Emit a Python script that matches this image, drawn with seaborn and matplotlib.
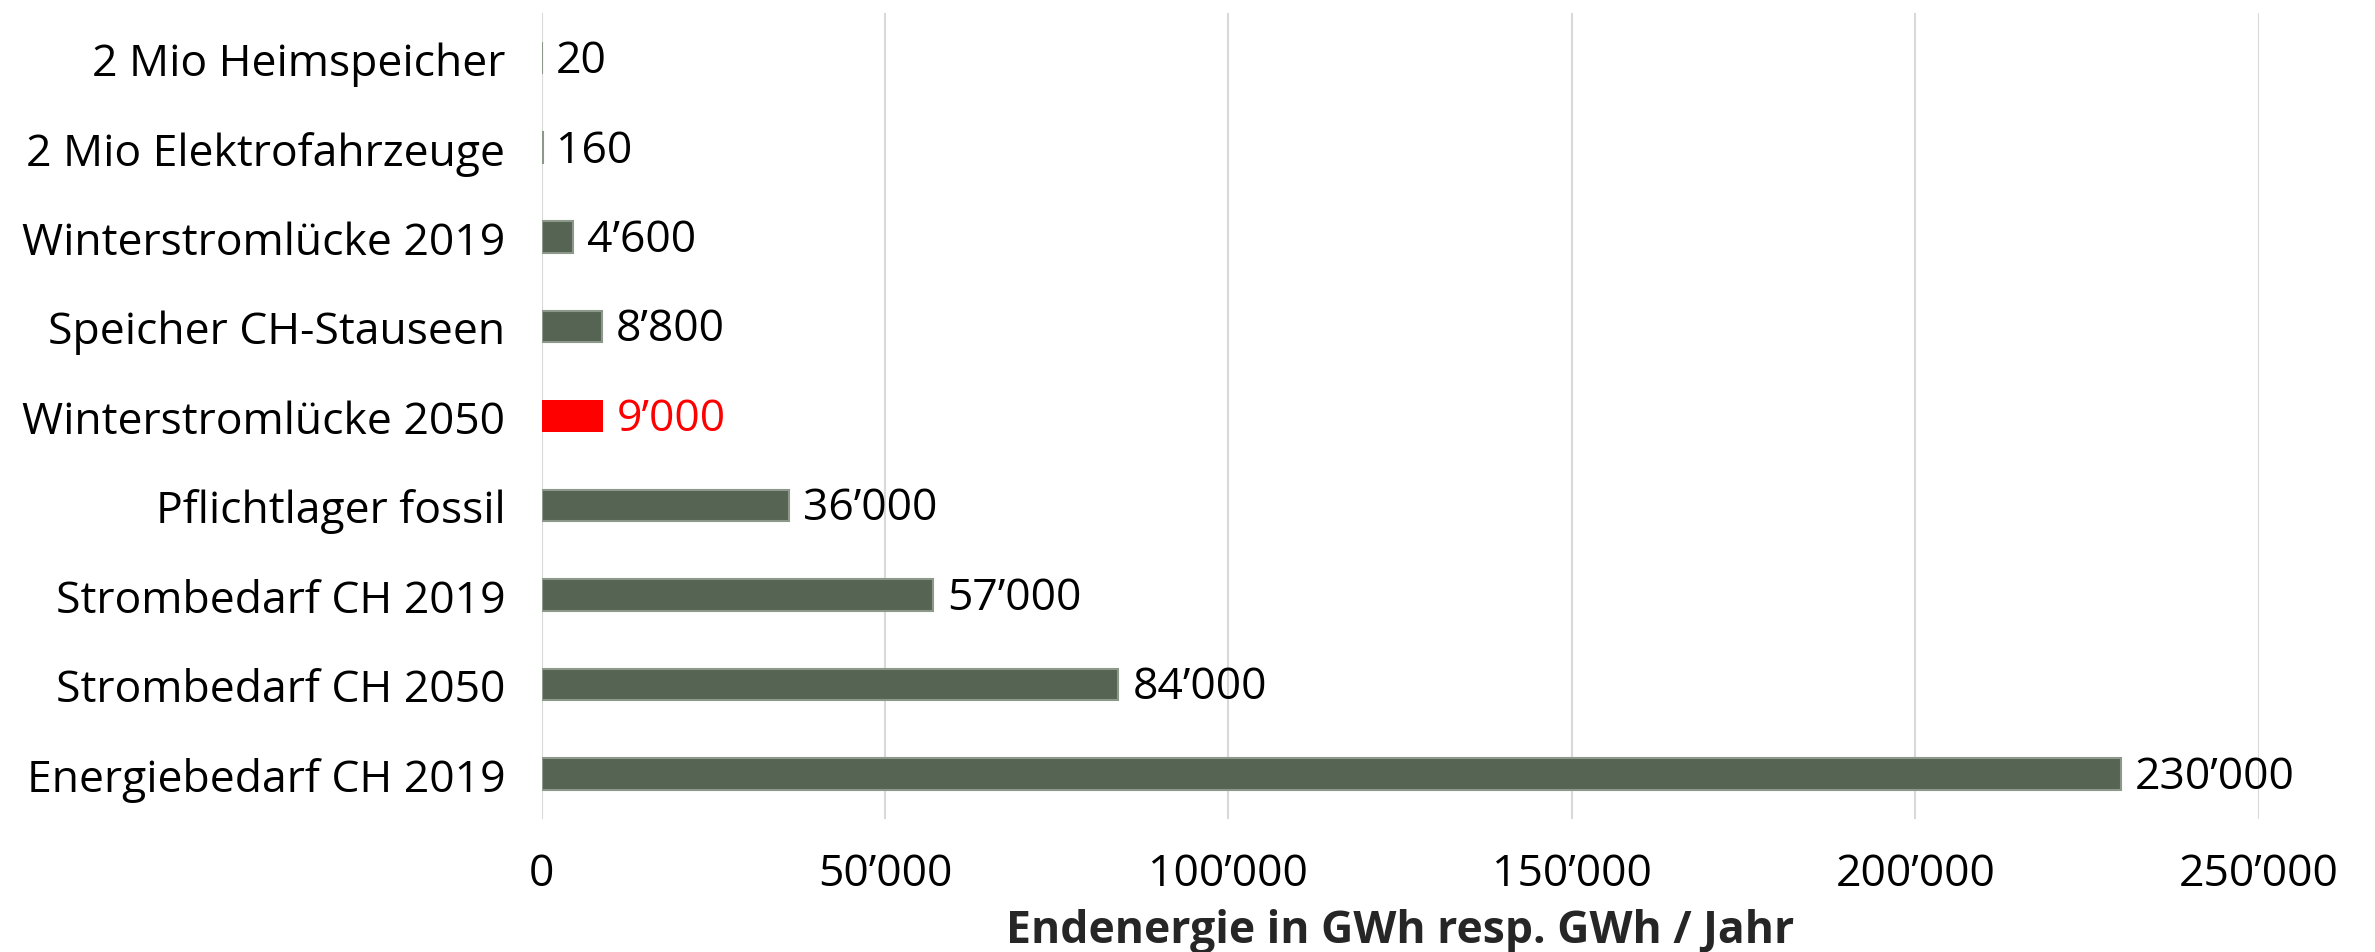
import matplotlib
matplotlib.use("Agg")
import matplotlib.pyplot as plt
import seaborn as sns
import pandas as pd
from matplotlib.ticker import FuncFormatter

categories = [
    "2 Mio Heimspeicher",
    "2 Mio Elektrofahrzeuge",
    "Winterstromlücke 2019",
    "Speicher CH-Stauseen",
    "Winterstromlücke 2050",
    "Pflichtlager fossil",
    "Strombedarf CH 2019",
    "Strombedarf CH 2050",
    "Energiebedarf CH 2019",
]
values = [20, 160, 4600, 8800, 9000, 36000, 57000, 84000, 230000]
highlight = "Winterstromlücke 2050"
x_ticks = [0, 50000, 100000, 150000, 200000, 250000]
x_label = "Endenergie in GWh resp. GWh / Jahr"

BAR = "#566453"
RED = "#ff0000"

sns.set_theme(style="white")
plt.rcParams["font.family"] = ["Open Sans", "DejaVu Sans"]

def swiss(v):
    return f"{int(round(v)):,}".replace(",", "\u2019")

df = pd.DataFrame({"cat": categories, "val": values})
df["grp"] = ["hi" if c == highlight else "base" for c in categories]

fig = plt.figure(figsize=(23.75, 9.53), dpi=100)
ax = fig.add_axes([0.228, 0.14, 0.723, 0.845])

sns.barplot(data=df, x="val", y="cat", hue="grp", order=categories,
            palette={"base": BAR, "hi": RED}, dodge=False, width=0.35,
            saturation=1, legend=False, ax=ax, zorder=3)

for patch in ax.patches:
    if patch.get_facecolor()[0] > 0.9:
        patch.set_edgecolor("none")
    else:
        patch.set_edgecolor("#8c9889")
        patch.set_linewidth(1.5)

fs = 32
for i, (c, v) in enumerate(zip(categories, values)):
    col = RED if c == highlight else "black"
    ax.annotate(swiss(v), xy=(v, i), xytext=(10, -2), textcoords="offset points",
                va="center", ha="left", fontsize=fs, color=col)

ax.set_xlim(0, 250000)
ax.set_ylim(8.5, -0.5)
ax.set_xticks(x_ticks)
ax.xaxis.set_major_formatter(FuncFormatter(lambda v, p: swiss(v)))
ax.grid(axis="x", color="#d9d9d9", linewidth=1.5, zorder=0)
ax.grid(axis="y", visible=False)
for s in ax.spines.values():
    s.set_visible(False)
ax.tick_params(axis="both", length=0, labelsize=fs, colors="black")
ax.tick_params(axis="x", pad=24)
ax.tick_params(axis="y", pad=26)
ax.set_ylabel("")
ax.set_xlabel(x_label, fontsize=fs, fontweight="bold", labelpad=8)

fig.savefig("out.png", dpi=100, facecolor="white")
